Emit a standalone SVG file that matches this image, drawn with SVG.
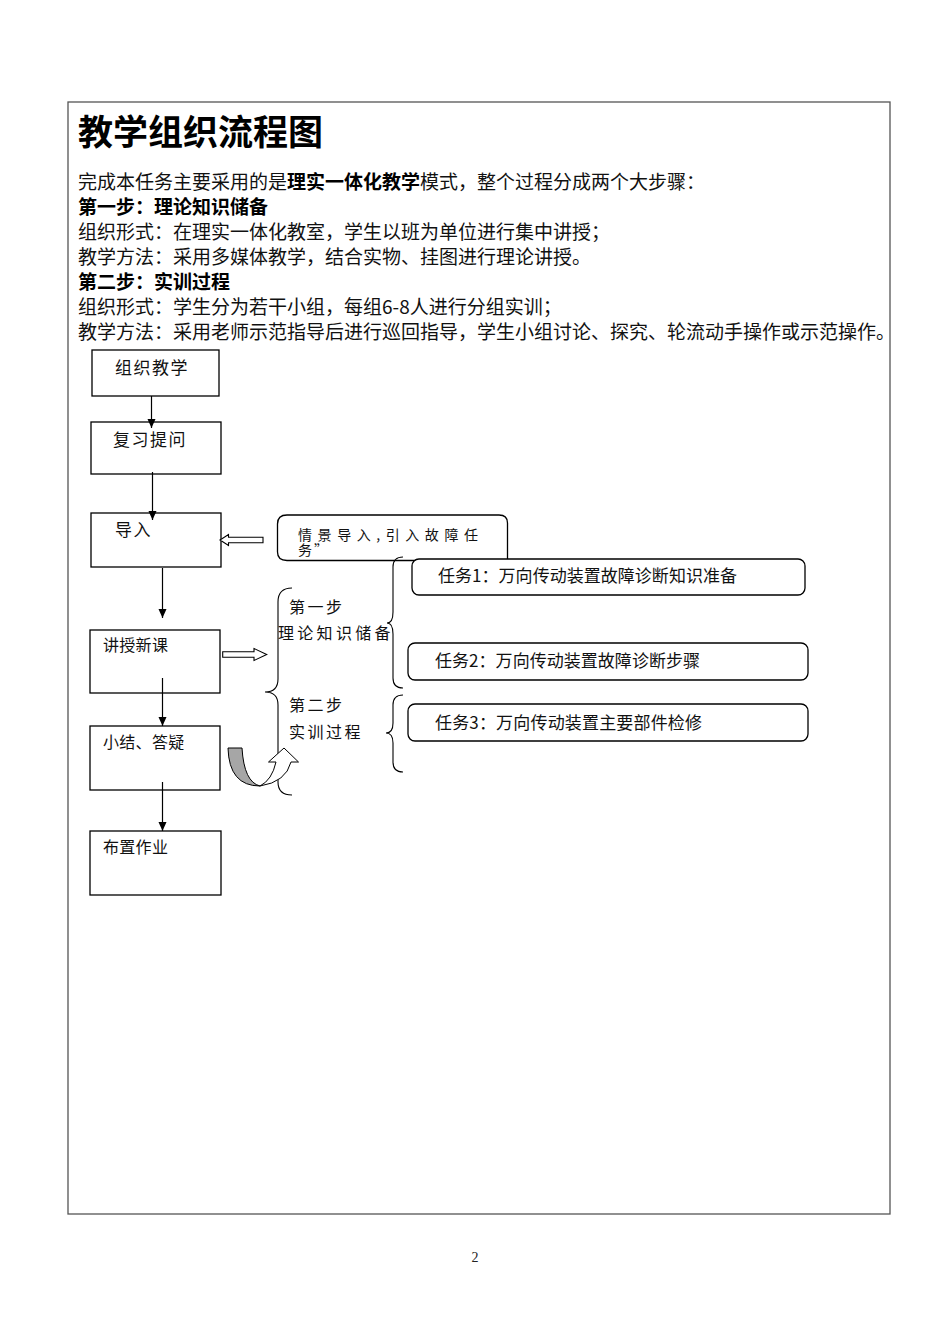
<svg xmlns="http://www.w3.org/2000/svg" width="950" height="1344" viewBox="0 0 950 1344">
<defs>
<style>
.t{font-family:"Noto Sans CJK SC","Liberation Sans",sans-serif;fill:#111;}
.b{font-weight:bold;fill:#000;}
.box{fill:#fff;stroke:#000;stroke-width:1.3;}
.ln{fill:none;stroke:#000;stroke-width:1.2;}
.br{fill:none;stroke:#000;stroke-width:1.1;}
.ha{fill:#fff;stroke:#000;stroke-width:1.1;}
</style>
<marker id="ah" markerUnits="userSpaceOnUse" markerWidth="10" markerHeight="10" refX="9" refY="4" orient="auto">
<path d="M0,0 L9,4 L0,8 Z" fill="#000"/>
</marker>
</defs>
<rect width="950" height="1344" fill="#fff"/>
<rect x="68" y="102" width="822" height="1112" fill="none" stroke="#555" stroke-width="1.3"/>

<g id="header">
<text class="t b" x="78" y="145" font-size="35">教学组织流程图</text>
<text class="t" x="78" y="188.5" font-size="19">完成本任务主要采用的是<tspan class="b">理实一体化教学</tspan>模式，整个过程分成两个大步骤：</text>
<text class="t b" x="78" y="213.5" font-size="19">第一步：理论知识储备</text>
<text class="t" x="78" y="238.5" font-size="19">组织形式：在理实一体化教室，学生以班为单位进行集中讲授；</text>
<text class="t" x="78" y="263.5" font-size="19">教学方法：采用多媒体教学，结合实物、挂图进行理论讲授。</text>
<text class="t b" x="78" y="288.5" font-size="19">第二步：实训过程</text>
<text class="t" x="78" y="313.5" font-size="19">组织形式：学生分为若干小组，每组6-8人进行分组实训；</text>
<text class="t" x="78" y="338.5" font-size="19">教学方法：采用老师示范指导后进行巡回指导，学生小组讨论、探究、轮流动手操作或示范操作。</text>
</g>

<g id="n1"><rect class="box" x="92" y="350" width="127" height="46"/><text class="t" x="115" y="374" font-size="17" letter-spacing="1.5">组织教学</text></g>
<g id="n2"><rect class="box" x="91" y="422" width="130" height="52"/><text class="t" x="113" y="446" font-size="17" letter-spacing="1.5">复习提问</text></g>
<g id="n3"><rect class="box" x="91" y="513" width="130" height="54"/><text class="t" x="115" y="536" font-size="17" letter-spacing="1.5">导入</text></g>
<g id="n4"><rect class="box" x="90" y="630" width="130" height="63"/><text class="t" x="103" y="651" font-size="16" letter-spacing="0.3">讲授新课</text></g>
<g id="n5"><rect class="box" x="90" y="726" width="130" height="64"/><text class="t" x="103" y="748" font-size="16" letter-spacing="0.3">小结、答疑</text></g>
<g id="n6"><rect class="box" x="90" y="831" width="131" height="64"/><text class="t" x="103" y="853" font-size="16" letter-spacing="0.3">布置作业</text></g>

<g id="n7">
<path class="box" d="M287,515 L499,515 Q507.5,515 507.5,523 L507.5,560.5 L287,560.5 Q277.5,560.5 277.5,552 L277.5,524 Q277.5,515 287,515 Z"/>
<text class="t" x="298" y="540" font-size="14" textLength="180" lengthAdjust="spacing">情景导入,引入故障任</text>
<text class="t" x="298" y="555" font-size="14" letter-spacing="2">务”</text>
</g>

<g id="n8">
<rect class="box" x="412" y="559" width="393" height="36" rx="7"/>
<text class="t" x="438" y="581.5" font-size="17" textLength="299" lengthAdjust="spacing">任务1：万向传动装置故障诊断知识准备</text>
</g>
<g id="n9">
<rect class="box" x="408" y="643" width="400" height="37" rx="7"/>
<text class="t" x="435" y="666.5" font-size="17" textLength="265" lengthAdjust="spacing">任务2：万向传动装置故障诊断步骤</text>
</g>
<g id="n10">
<rect class="box" x="408" y="704" width="400" height="37" rx="7"/>
<text class="t" x="435" y="729" font-size="17" textLength="267" lengthAdjust="spacing">任务3：万向传动装置主要部件检修</text>
</g>

<g id="n11">
<text class="t" x="289" y="613" font-size="16" letter-spacing="2.5">第一步</text>
<text class="t" x="278" y="639" font-size="16" letter-spacing="3.3">理论知识储备</text>
</g>
<g id="n12">
<text class="t" x="289" y="711" font-size="16" letter-spacing="2.5">第二步</text>
<text class="t" x="289" y="738" font-size="16" letter-spacing="2.5">实训过程</text>
</g>

<g id="connectors">
<line class="ln" x1="151.5" y1="396" x2="151.5" y2="428" marker-end="url(#ah)"/>
<line class="ln" x1="152.5" y1="472" x2="152.5" y2="520" marker-end="url(#ah)"/>
<line class="ln" x1="162.5" y1="568" x2="162.5" y2="618" marker-end="url(#ah)"/>
<line class="ln" x1="162.5" y1="678" x2="162.5" y2="726" marker-end="url(#ah)"/>
<line class="ln" x1="162.5" y1="782" x2="162.5" y2="831" marker-end="url(#ah)"/>
<path class="ha" d="M263,537.3 L228.5,537.3 L228.5,534.5 L220,540 L228.5,545.5 L228.5,542.7 L263,542.7 Z"/>
<path class="ha" d="M222.7,651.8 L254,651.8 L254,648.5 L266.7,654.5 L254,660.5 L254,657.2 L222.7,657.2 Z"/>
<path class="br" d="M292,588 Q278,588 278,602 L278,679 Q278,692 265,692 Q278,692 278,705 L278,782 Q278,795 292,795"/>
<path class="br" d="M403,557 Q393,557 393,567 L393,612 Q393,623 387,623 Q393,623 393,634 L393,678 Q393,688 403,688"/>
<path class="br" d="M403,695 Q393,695 393,705 L393,723 Q393,733 386,733 Q393,733 393,743 L393,762 Q393,772 403,772"/>
<path d="M228,748 L242,748 Q244,782 260,786 Q229,786 228,748 Z" fill="#a6a6a6" stroke="#000" stroke-width="1"/>
<path d="M260,786 Q286,782 291,762 L298.5,762 L284,748 L268.5,762 L276,762 Q272,780 260,786 Z" fill="#fff" stroke="#000" stroke-width="1"/>
</g>

<text x="475" y="1262" font-family="Liberation Serif, serif" font-size="14" text-anchor="middle" fill="#222">2</text>
</svg>
